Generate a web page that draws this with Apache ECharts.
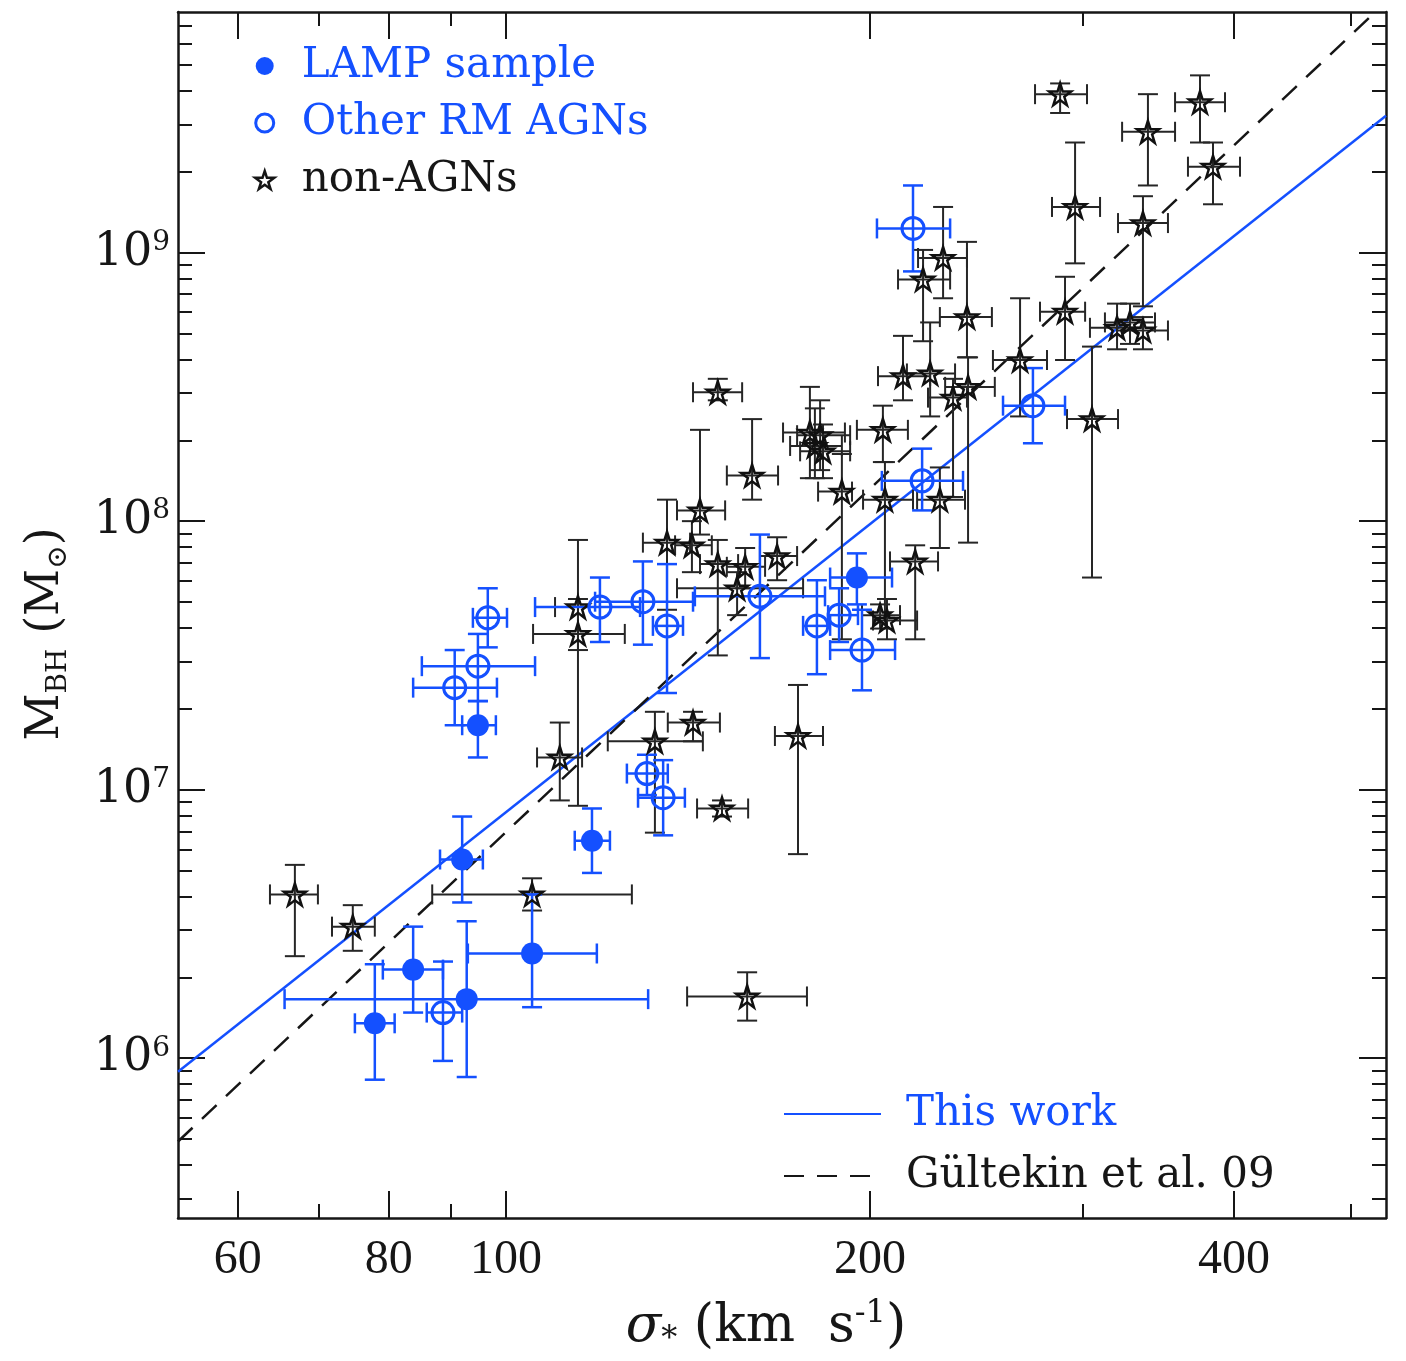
<!DOCTYPE html>
<html>
<head>
<meta charset="utf-8">
<script src="https://cdn.jsdelivr.net/npm/echarts@6/dist/echarts.min.js"></script>
<style>
  html, body { margin: 0; padding: 0; background: #fff; }
  #chart { width: 1406px; height: 1361px; }
</style>
</head>
<body>
<div id="chart"></div>
<script>
// ---------------- data ----------------
// axis ranges
const sigmaRange = [53.55, 534.4];      // km/s
const logMRange  = [5.405, 9.896];      // log10(M_BH / Msun)

// tick labels
const xTickLabels = [60, 80, 100, 200, 400];
const xMinorTicks = [70, 90, 300, 500];
const yTickLabels = [6, 7, 8, 9];       // exponents of 10
const yMinorMantissas = [2, 3, 4, 5, 6, 7, 8, 9];

// rows: [sigma, sigmaLow, sigmaHigh, logM, logMLow, logMHigh]
const lampSample = [
  [94.8, 92.0, 98.1, 7.24, 7.12, 7.33],
  [92.0, 88.2, 95.7, 6.74, 6.58, 6.90],
  [83.8, 79.1, 88.7, 6.33, 6.17, 6.49],
  [77.9, 75.0, 80.9, 6.13, 5.92, 6.35],
  [92.8, 65.6, 131.1, 6.22, 5.93, 6.51],
  [105.1, 93.0, 118.9, 6.39, 6.19, 6.61],
  [117.8, 114.0, 121.9, 6.81, 6.69, 6.93],
  [195.1, 185.4, 208.6, 7.79, 7.69, 7.88]
];

const otherRM = [
  [217.1, 202.7, 233.0, 9.09, 8.93, 9.25],
  [220.9, 204.6, 238.8, 8.15, 8.04, 8.27],
  [272.8, 257.7, 290.0, 8.43, 8.29, 8.57],
  [162.2, 143.3, 183.6, 7.72, 7.49, 7.95],
  [180.8, 176.1, 185.4, 7.61, 7.43, 7.78],
  [197.0, 185.4, 209.8, 7.52, 7.37, 7.67],
  [188.6, 184.7, 195.5, 7.65, 7.55, 7.75],
  [135.9, 132.3, 140.1, 7.61, 7.36, 7.84],
  [119.6, 105.7, 129.1, 7.68, 7.55, 7.79],
  [129.8, 118.5, 142.8, 7.70, 7.54, 7.85],
  [96.6, 93.9, 100.2, 7.64, 7.53, 7.75],
  [94.8, 85.2, 105.7, 7.46, 7.33, 7.58],
  [90.7, 83.8, 98.3, 7.38, 7.24, 7.52],
  [88.7, 86.0, 92.0, 6.17, 5.99, 6.36],
  [130.8, 125.9, 136.1, 7.06, 6.98, 7.13],
  [134.9, 128.6, 140.6, 6.97, 6.83, 7.11]
];

const nonAGN = [
  [66.9, 63.8, 69.9, 6.61, 6.38, 6.72],
  [74.7, 71.8, 77.9, 6.49, 6.40, 6.57],
  [105.1, 86.9, 127.1, 6.61, 6.55, 6.67],
  [158.3, 141.2, 177.4, 6.23, 6.14, 6.32],
  [110.8, 106.1, 115.6, 7.12, 6.96, 7.25],
  [114.7, 109.8, 119.6, 7.68, 7.52, 7.93],
  [114.7, 105.3, 125.4, 7.58, 6.94, 7.71],
  [132.8, 121.4, 145.5, 7.18, 6.84, 7.29],
  [142.8, 136.1, 150.3, 7.25, 7.18, 7.29],
  [150.9, 143.9, 158.6, 6.93, 6.90, 6.96],
  [174.4, 166.9, 182.9, 7.20, 6.76, 7.39],
  [149.7, 142.8, 156.8, 8.48, 8.45, 8.53],
  [159.8, 152.3, 167.9, 8.17, 8.08, 8.38],
  [144.7, 138.5, 151.8, 8.04, 7.95, 8.34],
  [135.9, 129.8, 142.0, 7.92, 7.67, 8.08],
  [142.5, 138.0, 148.0, 7.91, 7.81, 8.00],
  [149.7, 144.7, 155.6, 7.84, 7.50, 7.93],
  [157.7, 152.3, 163.8, 7.83, 7.75, 7.90],
  [167.6, 162.2, 174.1, 7.87, 7.78, 7.94],
  [155.3, 138.5, 176.1, 7.75, 7.65, 7.81],
  [178.4, 169.5, 190.7, 8.33, 8.16, 8.50],
  [181.9, 174.1, 192.6, 8.32, 8.19, 8.45],
  [180.1, 171.8, 189.6, 8.28, 8.16, 8.42],
  [182.9, 175.1, 192.6, 8.26, 8.16, 8.36],
  [189.6, 181.2, 193.3, 8.11, 7.56, 8.25],
  [205.0, 195.1, 215.0, 8.34, 8.22, 8.43],
  [205.8, 197.4, 217.1, 8.08, 7.64, 8.22],
  [228.5, 218.8, 239.7, 8.08, 7.90, 8.20],
  [218.0, 207.8, 227.7, 7.85, 7.56, 7.91],
  [206.6, 201.2, 218.8, 7.63, 7.56, 7.71],
  [203.9, 197.0, 211.8, 7.65, 7.60, 7.69],
  [229.9, 219.2, 240.6, 8.98, 8.83, 9.17],
  [221.3, 211.0, 233.0, 8.90, 8.67, 9.01],
  [240.6, 228.5, 252.3, 8.76, 8.61, 9.04],
  [241.1, 230.8, 253.7, 8.50, 7.92, 8.61],
  [213.0, 203.1, 224.3, 8.54, 8.45, 8.69],
  [224.3, 214.6, 235.2, 8.55, 8.39, 8.74],
  [234.3, 223.4, 240.6, 8.46, 8.09, 8.53],
  [266.2, 252.8, 280.2, 8.60, 8.39, 8.83],
  [290.0, 276.5, 301.3, 8.78, 8.60, 8.91],
  [320.2, 304.1, 336.4, 8.72, 8.64, 8.81],
  [336.4, 320.2, 352.8, 8.71, 8.64, 8.76],
  [328.2, 312.9, 344.2, 8.74, 8.66, 8.81],
  [305.3, 291.1, 320.8, 8.38, 7.79, 8.65],
  [295.6, 282.9, 310.0, 9.17, 8.96, 9.41],
  [336.4, 320.8, 352.8, 9.11, 8.80, 9.21],
  [287.3, 273.9, 302.4, 9.59, 9.52, 9.63],
  [375.0, 357.6, 393.3, 9.56, 9.41, 9.66],
  [339.6, 323.3, 357.6, 9.45, 9.25, 9.59],
  [384.4, 366.5, 404.7, 9.32, 9.18, 9.41]
];

// fitted relations (end points)
const thisWorkSigma = [53.55, 534.4];
const thisWorkLogM  = [5.95, 9.51];
const gultekinSigma = [53.55, 524.8];
const gultekinLogM  = [5.69, 9.90];

// ---------------- styling ----------------
const BLUE = '#1450ff';
const INK = '#161616';
const STAR = 'path://M50,0L61.2,34.5L97.6,34.5L68.2,55.9L79.4,90.5L50,69.1L20.6,90.5L31.8,55.9L2.4,34.5L38.8,34.5Z';

const L = Math.log10;
const toBars = rows => rows.map(r => [L(r[0]), L(r[1]), L(r[2]), r[3], r[4], r[5]]);
const toPts = rows => rows.map(r => [L(r[0]), r[3]]);
const toLine = (s, m) => s.map((v, i) => [L(v), m[i]]);

const yMinorTicks = [];
for (let n = Math.floor(logMRange[0]); n <= Math.ceil(logMRange[1]); n++) {
  yMinorMantissas.forEach(k => {
    const v = n + L(k);
    if (v > logMRange[0] && v < logMRange[1]) yMinorTicks.push(v);
  });
}

function barRenderer(color, width) {
  return function (params, api) {
    const x = api.value(0), xl = api.value(1), xh = api.value(2);
    const y = api.value(3), yl = api.value(4), yh = api.value(5);
    const a = api.coord([xl, y]), b = api.coord([xh, y]);
    const c = api.coord([x, yl]), d = api.coord([x, yh]);
    const cap = 10;
    const style = { stroke: color, lineWidth: width, fill: null };
    const seg = (x1, y1, x2, y2) => ({ type: 'line', shape: { x1, y1, x2, y2 }, style });
    return {
      type: 'group',
      children: [
        seg(a[0], a[1], b[0], b[1]),
        seg(a[0], a[1] - cap, a[0], a[1] + cap),
        seg(b[0], b[1] - cap, b[0], b[1] + cap),
        seg(c[0], c[1], d[0], d[1]),
        seg(c[0] - cap, c[1], c[0] + cap, c[1]),
        seg(d[0] - cap, d[1], d[0] + cap, d[1])
      ]
    };
  };
}

function xAxisDef(position, ticks, len, main) {
  const ax = {
    type: 'value', position,
    min: L(sigmaRange[0]), max: L(sigmaRange[1]),
    splitLine: { show: false },
    axisLine: { show: main !== null, onZero: false, lineStyle: { color: INK, width: 2.5 } },
    axisTick: { show: true, inside: true, length: len, customValues: ticks, lineStyle: { color: INK, width: 2 } },
    axisLabel: { show: false }
  };
  if (main) {
    ax.axisLabel = {
      show: true, customValues: ticks, margin: 18,
      formatter: v => String(Math.round(Math.pow(10, v))),
      fontFamily: 'Liberation Serif', fontSize: 48, color: INK
    };
    ax.name = '{i|σ}{sub|*}{t| (km  s}{sup|-1}{t|)}';
    ax.nameLocation = 'middle';
    ax.nameGap = 80;
    ax.nameTextStyle = {
      padding: [0, 32, 0, 0],
      rich: {
        i: { fontFamily: 'DejaVu Serif', fontStyle: 'italic', fontSize: 52, lineHeight: 58, color: INK },
        t: { fontFamily: 'DejaVu Serif', fontSize: 52, lineHeight: 58, color: INK },
        sub: { fontFamily: 'DejaVu Serif', fontSize: 32, lineHeight: 32, verticalAlign: 'bottom', color: INK },
        sup: { fontFamily: 'DejaVu Serif', fontSize: 32, lineHeight: 32, verticalAlign: 'top', color: INK }
      }
    };
  }
  return ax;
}

function yAxisDef(position, ticks, len, main) {
  const ax = {
    type: 'value', position,
    min: logMRange[0], max: logMRange[1],
    splitLine: { show: false },
    axisLine: { show: main !== null, onZero: false, lineStyle: { color: INK, width: 2.5 } },
    axisTick: { show: true, inside: true, length: len, customValues: ticks, lineStyle: { color: INK, width: 2 } },
    axisLabel: { show: false }
  };
  if (main) {
    ax.axisLabel = {
      show: true, customValues: ticks, margin: 8,
      formatter: v => '{b|10}{s|' + Math.round(v) + '}',
      rich: {
        b: { fontFamily: 'DejaVu Serif', fontSize: 46, lineHeight: 48, color: INK },
        s: { fontFamily: 'DejaVu Serif', fontSize: 28, lineHeight: 28, verticalAlign: 'top', color: INK }
      }
    };
    ax.name = '{t|M}{sub|BH}{t| (M}{sub|⊙}{t|)}';
    ax.nameLocation = 'middle';
    ax.nameGap = 105;
    ax.nameTextStyle = {
      padding: [0, 38, 0, 0],
      rich: {
        t: { fontFamily: 'DejaVu Serif', fontSize: 46, lineHeight: 54, color: INK },
        sub: { fontFamily: 'DejaVu Serif', fontSize: 28, lineHeight: 28, verticalAlign: 'bottom', color: INK }
      }
    };
  }
  return ax;
}

const xMajor = xTickLabels.map(L);
const xMinor = xMinorTicks.map(L);
const hiddenSymbol = { color: 'rgba(0,0,0,0)', borderWidth: 0, opacity: 0 };

const option = {
  animation: false,
  backgroundColor: '#fff',
  grid: { left: 178, right: 20, top: 12, bottom: 141, containLabel: false },
  xAxis: [
    xAxisDef('bottom', xMajor, 27, true),
    xAxisDef('bottom', xMinor, 14, null),
    xAxisDef('top', xMajor, 27, false),
    xAxisDef('top', xMinor, 14, null)
  ],
  yAxis: [
    yAxisDef('left', yTickLabels, 27, true),
    yAxisDef('left', yMinorTicks, 14, null),
    yAxisDef('right', yTickLabels, 27, false),
    yAxisDef('right', yMinorTicks, 14, null)
  ],
  legend: [
    {
      orient: 'vertical', left: 254, top: 38, padding: 0,
      itemWidth: 64, itemHeight: 18, itemGap: 1,
      selectedMode: false,
      textStyle: { fontFamily: 'DejaVu Serif', fontSize: 42, lineHeight: 56, color: INK },
      data: [
        { name: 'LAMP sample', icon: 'circle', itemStyle: { color: BLUE, borderWidth: 0, opacity: 1 }, textStyle: { color: BLUE } },
        { name: 'Other RM AGNs', icon: 'circle', itemStyle: { color: 'rgba(0,0,0,0)', borderColor: BLUE, borderWidth: 3, opacity: 1 }, textStyle: { color: BLUE } },
        { name: 'non-AGNs', icon: STAR, itemStyle: { color: 'rgba(0,0,0,0)', borderColor: INK, borderWidth: 2.5, opacity: 1 }, textStyle: { color: INK } }
      ]
    },
    {
      orient: 'vertical', left: 783, top: 1086, padding: 0,
      itemWidth: 97, itemHeight: 20, itemGap: 6,
      selectedMode: false,
      textStyle: { fontFamily: 'DejaVu Serif', fontSize: 42, lineHeight: 56, color: INK, padding: [0, 0, 0, 20] },
      data: [
        { name: 'This work', itemStyle: hiddenSymbol, textStyle: { color: BLUE } },
        { name: 'Gültekin et al. 09', itemStyle: hiddenSymbol, textStyle: { color: INK } }
      ]
    }
  ],
  series: [
    {
      name: 'This work', type: 'line', data: toLine(thisWorkSigma, thisWorkLogM),
      symbol: 'none', showSymbol: false, clip: true, z: 1,
      lineStyle: { color: BLUE, width: 2.5 }, itemStyle: { color: BLUE }
    },
    {
      name: 'Gültekin et al. 09', type: 'line', data: toLine(gultekinSigma, gultekinLogM),
      symbol: 'none', showSymbol: false, clip: true, z: 1,
      lineStyle: { color: INK, width: 2.5, type: [20, 13] }, itemStyle: { color: INK }
    },
    {
      name: 'nonAGN bars', type: 'custom', data: toBars(nonAGN), z: 2,
      encode: { x: [0, 1, 2], y: [3, 4, 5] }, renderItem: barRenderer('#262626', 2)
    },
    {
      name: 'RM bars', type: 'custom', data: toBars(otherRM), z: 3,
      encode: { x: [0, 1, 2], y: [3, 4, 5] }, renderItem: barRenderer(BLUE, 2.5)
    },
    {
      name: 'LAMP bars', type: 'custom', data: toBars(lampSample), z: 3,
      encode: { x: [0, 1, 2], y: [3, 4, 5] }, renderItem: barRenderer(BLUE, 2.5)
    },
    {
      name: 'non-AGNs', type: 'scatter', data: toPts(nonAGN), z: 4,
      symbol: STAR, symbolSize: 22,
      itemStyle: { color: 'rgba(0,0,0,0)', borderColor: '#111', borderWidth: 2.5, opacity: 1 }
    },
    {
      name: 'Other RM AGNs', type: 'scatter', data: toPts(otherRM), z: 5,
      symbol: 'circle', symbolSize: 22,
      itemStyle: { color: 'rgba(0,0,0,0)', borderColor: BLUE, borderWidth: 3, opacity: 1 }
    },
    {
      name: 'LAMP sample', type: 'scatter', data: toPts(lampSample), z: 6,
      symbol: 'circle', symbolSize: 22,
      itemStyle: { color: BLUE, opacity: 1 }
    }
  ]
};

const chart = echarts.init(document.getElementById('chart'), null, { renderer: 'canvas' });
chart.setOption(option);
</script>
</body>
</html>
